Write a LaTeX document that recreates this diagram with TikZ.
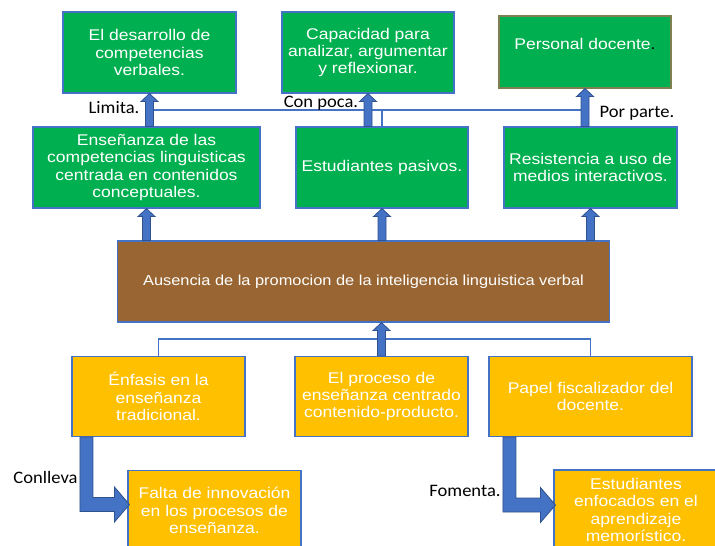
\documentclass[tikz,border=0pt]{standalone}
\usepackage{fontspec}
\usetikzlibrary{calc}
\newfontfamily\arialf[FakeStretch=1.13]{Liberation Sans}
\newfontfamily\calf[FakeStretch=1.06]{Carlito}
\definecolor{cgreen}{HTML}{00B050}
\definecolor{cyellow}{HTML}{FFC000}
\definecolor{cbrown}{HTML}{996633}
\definecolor{cblue}{HTML}{4472C4}
\definecolor{carrfill}{HTML}{4472C4}
\definecolor{carrdraw}{HTML}{2F528F}
\definecolor{colive}{HTML}{7F8050}
\tikzset{
  boxbase/.style={rectangle, draw=cblue, line width=1.1pt, text=white, align=center,
    inner sep=0pt, font=\arialf\fontsize{15.5}{17.4}\selectfont},
  gbox/.style={boxbase, fill=cgreen},
  ybox/.style={boxbase, fill=cyellow},
  bbox/.style={boxbase, fill=cbrown, font=\arialf\fontsize{14.5}{17.4}\selectfont},
  lbl/.style={font=\calf\fontsize{17.5}{20}\selectfont, text=black, inner sep=0pt, anchor=base},
  thinline/.style={draw=cblue, line width=1.3pt},
  blk/.style={fill=carrfill, draw=carrdraw, line width=0.8pt, line join=miter}
}
\newcommand\blkup[2]{%
  \path[blk] let \p1=(#1), \p2=(#2) in
   (\x1-4pt,\y1) -- (\x1-4pt,\y2-8pt) -- (\x1-8.5pt,\y2-8pt) -- (\x2,\y2)
   -- (\x1+8.5pt,\y2-8pt) -- (\x1+4pt,\y2-8pt) -- (\x1+4pt,\y1) -- cycle;}
\newcommand\blkbent[2]{%
  \path[blk] let \p1=(#1), \p2=(#2) in
   (\x1-6.5pt,\y1) -- (\x1-6.5pt,\y2-7pt) -- (\x2-15pt,\y2-7pt) -- (\x2-15pt,\y2-17.5pt)
   -- (\x2,\y2) -- (\x2-15pt,\y2+17.5pt) -- (\x2-15pt,\y2+7pt) -- (\x1+6.5pt,\y2+7pt)
   -- (\x1+6.5pt,\y1) -- cycle;}
\begin{document}
\begin{tikzpicture}[x=1pt,y=-1pt]
\useasboundingbox (0,0) rectangle (715,546);
\clip (0,0) rectangle (715,546);
% top row
\node[gbox, minimum width=173, minimum height=81] (b1) at (149.5,52.5)
  {El desarrollo de\\competencias\\verbales.};
\node[gbox, minimum width=172, minimum height=81] (b2) at (368,52.5)
  {Capacidad para\\analizar, argumentar\\y reflexionar.};
\node[gbox, draw=colive, minimum width=172, minimum height=72] (b3) at (585,52)
  {\raisebox{8pt}[\height][\depth]{Personal docente\textcolor{black}{.}}};
% second row
\node[gbox, minimum width=227, minimum height=81] (b4) at (146.5,167.5)
  {Enseñanza de las\\competencias linguisticas\\centrada en contenidos\\conceptuales.};
\node[gbox, minimum width=172, minimum height=81] (b5) at (382,167.5)
  {Estudiantes pasivos.};
\node[gbox, minimum width=173, minimum height=81] (b6) at (590.5,167.5)
  {Resistencia a uso de\\medios interactivos.};
% brown
\node[bbox, minimum width=492, minimum height=81] (br) at (363.5,281.5)
  {Ausencia de la promocion de la inteligencia linguistica verbal};
% yellow row
\node[ybox, minimum width=173, minimum height=80] (b7) at (158.5,396.5)
  {Énfasis en la\\enseñanza\\tradicional.};
\node[ybox, minimum width=173, minimum height=80] (b8) at (381.5,396.5)
  {El proceso de\\enseñanza centrado\\contenido-producto.};
\node[ybox, minimum width=203, minimum height=80] (b9) at (590.5,396.5)
  {Papel fiscalizador del\\docente.};
\node[ybox, minimum width=173, minimum height=80] (b10) at (214.5,510.5)
  {Falta de innovación\\en los procesos de\\enseñanza.};
\node[ybox, minimum width=164, minimum height=80] (b11) at (636,510)
  {Estudiantes\\enfocados en el\\aprendizaje\\memorístico.};
% thin connector lines
\coordinate (hl) at (149.5,110);
\coordinate (hr) at (585,110);
\draw[thinline] (hl) -- (hr);
\draw[thinline] (b5.north) -- (b5.north |- hl);
\draw[thinline] (b7.north) -- ++(0,-17) -| (b9.north);
% block arrows
\blkup{b1.south |- b4.north}{b1.south}
\blkup{b2.south |- b5.north}{b2.south}
\blkup{b3.south |- b6.north}{b3.south}
\blkup{b4.south |- br.north}{b4.south}
\blkup{b5.south |- br.north}{b5.south}
\blkup{b6.south |- br.north}{b6.south}
\blkup{b8.north}{b8.north |- br.south}
\blkbent{[xshift=15pt]b7.south west}{[xshift=2pt,yshift=6pt]b10.west}
\blkbent{[xshift=21pt]b9.south west}{[xshift=2pt,yshift=5pt]b11.west}
% labels
\node[lbl] (l1) at (114,113) {Limita.};
\node[lbl] (l2) at (321,107) {Con poca.};
\node[lbl] (l3) at (637,117) {Por parte.};
\node[lbl] (l4) at (45.5,483) {Conlleva};
\node[lbl] (l5) at (465,496.5) {Fomenta.};
\end{tikzpicture}
\end{document}
